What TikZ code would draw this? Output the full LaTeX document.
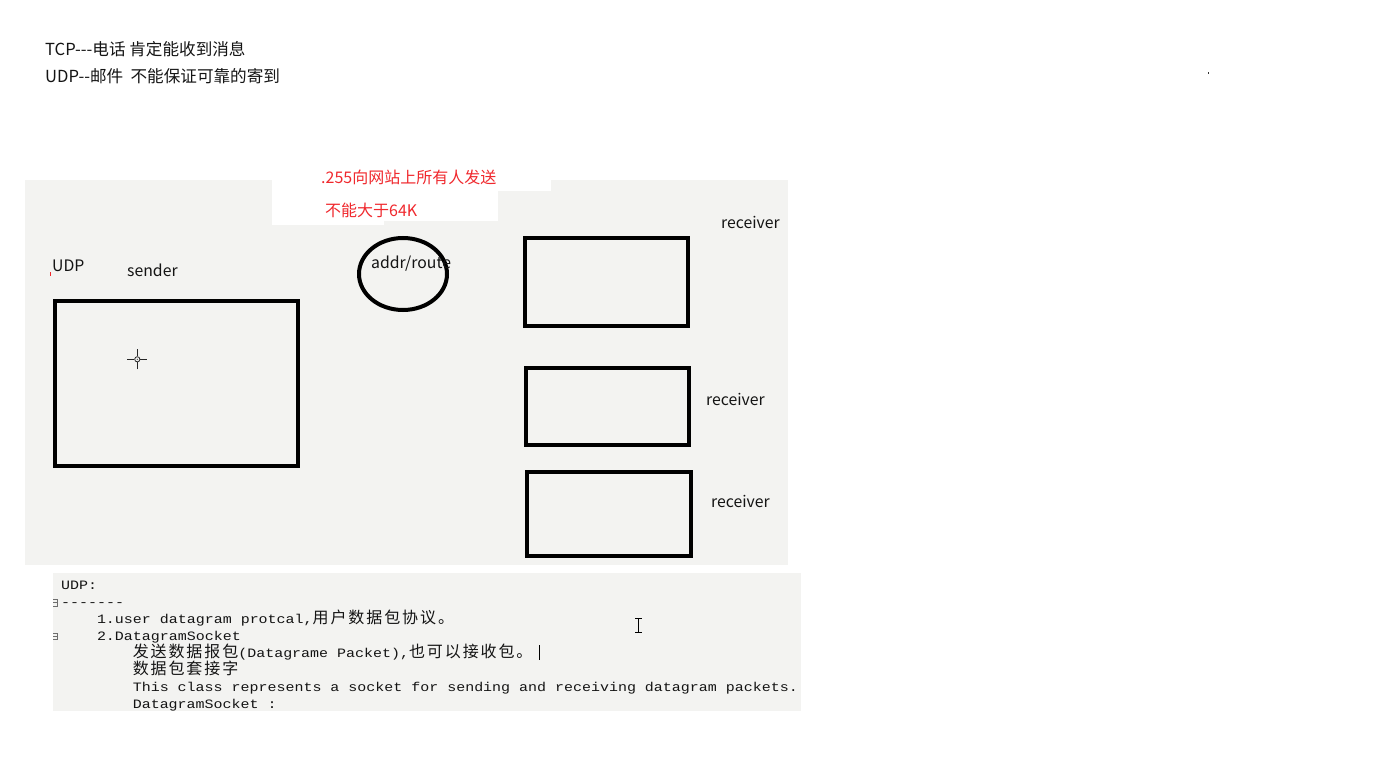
\documentclass[tikz,border=0pt]{standalone}
\usepackage{fontspec}
\usetikzlibrary{shapes.geometric}
\newfontfamily\cjk{Noto Sans CJK SC}
\newfontfamily\cjkc[LetterSpace=11.9]{Noto Sans CJK SC}
\newfontfamily\mono[FakeStretch=1.17]{Liberation Mono}
\newcommand{\zh}[1]{{\cjkc\fontsize{16}{17}\selectfont #1}}
\definecolor{bgc}{RGB}{243,243,241}
\definecolor{redt}{RGB}{240,40,45}
\definecolor{txt}{RGB}{20,20,20}
\definecolor{fold}{RGB}{110,110,110}
\tikzset{
  lbl/.style={anchor=base west,inner sep=0pt,text=txt,font=\cjk\fontsize{15.8}{18}\selectfont},
  toplbl/.style={anchor=base west,inner sep=0pt,text=txt,font=\cjk\fontsize{16.6}{18}\selectfont},
  redlbl/.style={anchor=base west,inner sep=0pt,text=redt,font=\cjk\fontsize{16}{18}\selectfont},
  code/.style={anchor=base west,inner sep=0pt,text=txt,font=\mono\fontsize{12.8}{17}\selectfont},
  boxx/.style={draw=black,line width=4pt},
}
\begin{document}
\begin{tikzpicture}[x=1pt,y=-1pt]
\useasboundingbox (0,0) rectangle (1400,778);
% top notes
\node[toplbl] (tcp) at (45,55.5) {TCP---电话 肯定能收到消息};
\node[toplbl] (udpn) at (45,82.5) {UDP--邮件\ \ 不能保证可靠的寄到};
\fill[black!80] (1207.5,72.5) rectangle (1209,74);
% gray canvas
\fill[bgc] (25,180) rectangle (788,565);
\fill[white] (272,180) rectangle (551,191);
\fill[white] (272,180) rectangle (384,225);
\fill[white] (384,180) rectangle (498,221);
\node[redlbl] (bc) at (321,183.5) {.255向网站上所有人发送};
\node[redlbl] (lim) at (325,216.5) {不能大于64K};
% labels
\node[lbl] (udp) at (52,271) {UDP};
\draw[redt,line width=0.8pt] (50.5,272) -- (50.5,276);
\node[lbl] (snd) at (127,276.5) {sender};
% sender
\draw[boxx] (54.5,301) rectangle (297.5,465.5) node[pos=0.5,inner sep=0] (sender) {};
% crosshair
\coordinate (ch) at (137.3,359.3);
\draw[black!85,line width=1pt] ([xshift=-10pt]ch) -- ([xshift=-3pt]ch)
  ([xshift=3pt]ch) -- ([xshift=10pt]ch)
  ([yshift=-10pt]ch) -- ([yshift=-3pt]ch)
  ([yshift=3pt]ch) -- ([yshift=10pt]ch);
\draw[black!85,line width=0.8pt] (ch) circle (2.6pt);
\fill[black!85] (ch) circle (0.6pt);
% router
\node[draw=black,line width=4pt,ellipse,minimum width=88pt,minimum height=72pt,inner sep=0] (router) at (403,274) {};
\node[lbl] (rt) at (371,269) {addr/route};
% receivers
\draw[boxx] (524.5,238) rectangle (687.5,325.5) node[pos=0.5,inner sep=0] (r1) {};
\draw[boxx] (525.5,368) rectangle (688.5,444.5) node[pos=0.5,inner sep=0] (r2) {};
\draw[boxx] (526.5,472) rectangle (690.5,555.5) node[pos=0.5,inner sep=0] (r3) {};
\node[lbl] (rl1) at (721,229) {receiver};
\node[lbl] (rl2) at (706,405) {receiver};
\node[lbl] (rl3) at (711,507) {receiver};
% code panel
\fill[bgc] (53,573) rectangle (801,711);
\foreach \yy in {599.5,633} {
  \draw[fold,line width=0.7pt] (53,\yy) -- (57,\yy) -- (57,\yy+6.5) -- (53,\yy+6.5)
    (53,\yy+3.25) -- (57,\yy+3.25);
}
\node[code] (c1) at (61,589) {UDP:};
\node[code] (c2) at (61,606) {-------};
\node[code] (c3) at (96.8,623) {1.user datagram protcal,\zh{用户数据包协议。}};
\node[code] (c4) at (96.8,640) {2.DatagramSocket};
\node[code] (c5) at (132.6,657) {\zh{发送数据报包}(Datagrame Packet),\zh{也可以接收包。}};
\node[code] (c6) at (132.6,674) {\zh{数据包套接字}};
\node[code] (c7) at (132.6,691) {This class represents a socket for sending and receiving datagram packets.};
\node[code] (c8) at (132.6,708) {DatagramSocket :};
% cursors
\draw[black,line width=1.8pt] (539.5,645) -- (539.5,660);
\draw[black,line width=0.9pt] (638.5,618.5) -- (638.5,632.5)
  (635,618.5) -- (642,618.5) (635,632.5) -- (642,632.5);
\end{tikzpicture}
\end{document}
